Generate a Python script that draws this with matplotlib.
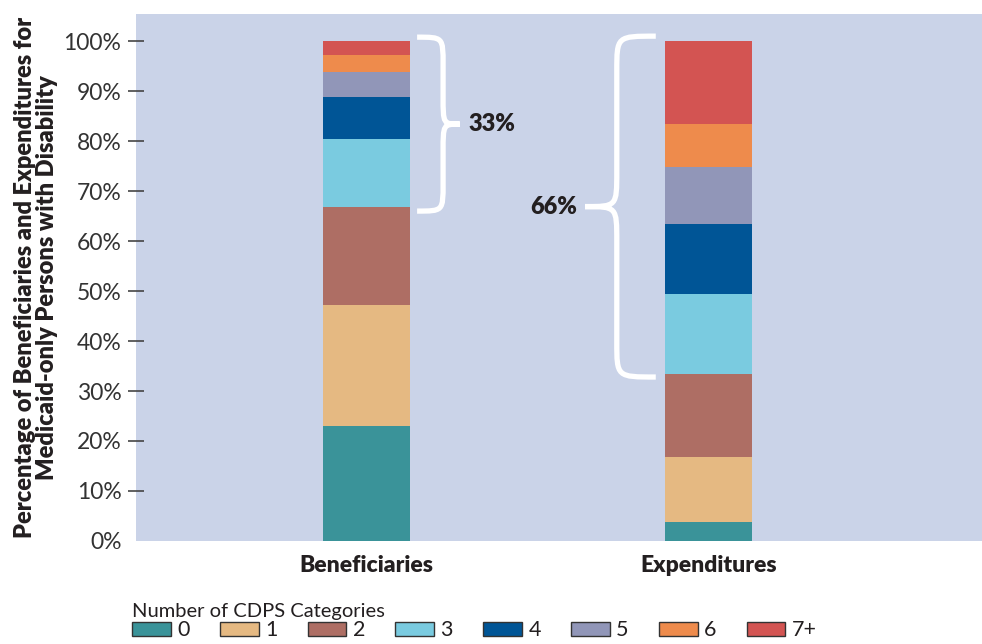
#!/usr/bin/env python3
"""Stacked share of beneficiaries vs. expenditures by number of CDPS categories."""
import numpy as np
import matplotlib
matplotlib.use("Agg")
import matplotlib.pyplot as plt
from matplotlib.path import Path
from matplotlib.patches import PathPatch, Patch

GROUPS = ["Beneficiaries", "Expenditures"]
CATEGORIES = ["0", "1", "2", "3", "4", "5", "6", "7+"]
BENEFICIARIES = [23.0, 24.2, 19.6, 13.6, 8.4, 5.0, 3.4, 2.8]
EXPENDITURES = [3.8, 13.0, 16.6, 16.0, 14.0, 11.4, 8.6, 16.6]
BRACE_LABELS = ["33%", "66%"]
COLORS = ["#3a9399", "#e5b982", "#ae6e64", "#7acbe0",
          "#005596", "#9196b8", "#ee8b4c", "#d35452"]

BG = "#cad3e8"
DARK = "#231f20"

plt.rcParams["font.family"] = ["Lato", "DejaVu Sans"]


def brace(ax, x_end, x_mid, x_tip, y_bot, y_top, h, **kw):
    ym = (y_bot + y_top) / 2
    verts = [
        (x_end, y_top),
        (x_mid, y_top), (x_mid, y_top), (x_mid, y_top - h),
        (x_mid, ym + h),
        (x_mid, ym), (x_mid, ym), (x_tip, ym),
        (x_mid, ym), (x_mid, ym), (x_mid, ym - h),
        (x_mid, y_bot + h),
        (x_mid, y_bot), (x_mid, y_bot), (x_end, y_bot),
    ]
    codes = ([Path.MOVETO] + [Path.CURVE4] * 3 + [Path.LINETO]
             + [Path.CURVE4] * 6 + [Path.LINETO] + [Path.CURVE4] * 3)
    ax.add_patch(PathPatch(Path(verts, codes), fill=False, **kw))
    return ym


def main():
    fig = plt.figure(figsize=(9.82, 6.44), dpi=100)
    ax = fig.add_axes([0.1385, 0.160, 0.8615, 0.818])
    ax.set_facecolor(BG)
    for s in ax.spines.values():
        s.set_visible(False)

    data = np.array([BENEFICIARIES, EXPENDITURES])
    x = np.arange(len(GROUPS))
    width = 0.254
    bottom = np.zeros(len(GROUPS))
    for k, cat in enumerate(CATEGORIES):
        ax.bar(x, data[:, k], width, bottom=bottom, color=COLORS[k],
               edgecolor="none", label=cat)
        bottom += data[:, k]

    ax.set_xlim(-0.674, 1.80)
    ax.set_ylim(0, 105.4)

    ax.set_yticks(np.arange(0, 101, 10))
    ax.set_yticklabels([f"{v}%" for v in range(0, 101, 10)])
    ax.tick_params(axis="y", direction="inout", length=11, width=1.2,
                   color="#444444", labelsize=16.5, labelcolor="#333333", pad=5)
    ax.yaxis.get_major_ticks()[0].tick1line.set_visible(False)

    ax.set_xticks(x)
    ax.set_xticklabels(GROUPS, fontsize=16.5, fontweight="heavy", color=DARK)
    ax.tick_params(axis="x", length=0, pad=10)

    ax.set_ylabel("Percentage of Beneficiaries and Expenditures for\n"
                  "Medicaid-only Persons with Disability",
                  fontsize=17, fontweight="heavy", color=DARK, labelpad=4,
                  linespacing=1.0)

    # braces over the 3+ categories
    cum3 = data[:, :3].sum(axis=1)
    bkw = dict(edgecolor="white", linewidth=3.8, capstyle="butt")
    ym = brace(ax, x[0] + 0.148, x[0] + 0.224, x[0] + 0.273,
               cum3[0] - 0.8, 100.8, 5.5, **bkw)
    ax.text(x[0] + 0.297, ym, BRACE_LABELS[0], ha="left", va="center",
            fontsize=17, fontweight="heavy", color=DARK)
    ym = brace(ax, x[1] - 0.154, x[1] - 0.268, x[1] - 0.361,
               cum3[1] - 0.6, 101.0, 7, **bkw)
    ax.text(x[1] - 0.385, ym, BRACE_LABELS[1], ha="right", va="center",
            fontsize=17, fontweight="heavy", color=DARK)

    handles = [Patch(facecolor=c, edgecolor="#333333", linewidth=1.0)
               for c in COLORS]
    leg = fig.legend(handles, CATEGORIES, loc="upper left",
                     bbox_to_anchor=(0.1345, 0.063), ncol=8, frameon=False,
                     title="Number of CDPS Categories", title_fontsize=14.5,
                     alignment="left", fontsize=15.5, handlelength=1.8,
                     handleheight=0.62, handletextpad=0.3,
                     columnspacing=1.4, borderpad=0, borderaxespad=0,
                     labelspacing=0)
    leg.get_title().set_color(DARK)
    for t in leg.get_texts():
        t.set_color(DARK)

    fig.savefig("out.png", dpi=100)
    plt.close(fig)


if __name__ == "__main__":
    main()
